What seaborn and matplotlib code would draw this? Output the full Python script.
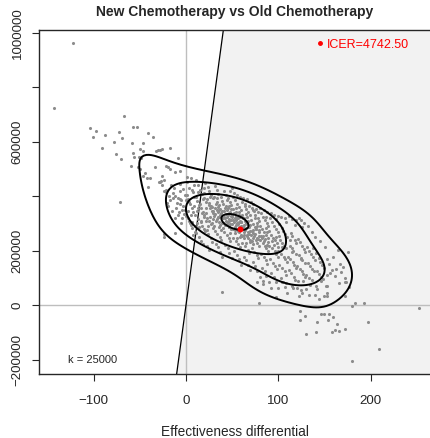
import numpy as np
import pandas as pd
import seaborn as sns
import matplotlib.pyplot as plt
from matplotlib.lines import Line2D

# values: (effectiveness differential, cost differential in thousands)
upper_left = [(-122, 961), (-143, 723), (-67, 693), (-104, 652), (-97, 640), (-101, 616),
              (-88, 623), (-73, 634), (-69, 612), (-78, 597), (-57, 654), (-53, 655),
              (-41, 630), (-36, 618), (-58, 594), (-91, 578), (-50, 573), (-46, 567),
              (-76, 554), (-70, 537), (-57, 557), (-56, 545), (-51, 542), (-49, 541),
              (-32, 564), (-28, 569), (-26, 572), (-17, 575), (-60, 512), (-52, 506),
              (-50, 498), (-33, 508), (-47, 474), (-39, 467), (-22, 510), (-20, 506),
              (-17, 498), (-12, 490), (-7, 493), (-9, 541), (-26, 475), (-29, 453),
              (-27, 456), (-41, 432), (-24, 420), (-22, 421), (-71, 378), (-46, 594),
              (-44, 484), (-42, 465), (-30, 569)]

mid_left = [(-21, 373), (-14, 392), (-24, 261), (-24, 251), (-12, 263), (-14, 411),
            (-12, 400), (-9, 395), (-7, 390), (-5, 385), (-10, 375), (-6, 370), (-3, 362),
            (-11, 355), (-4, 350), (-8, 342), (-2, 335), (-13, 430), (-6, 420), (-16, 440),
            (-18, 400), (-24, 459), (-26, 441), (-22, 416), (-28, 453), (-19, 365),
            (-15, 345), (-9, 330), (-4, 318), (-1, 405), (-7, 445), (-3, 428), (-17, 385),
            (-1, 348), (2, 320), (6, 305), (-5, 300), (10, 290), (-12, 318), (1, 470)]

core = [(1, 452), (3.4, 431), (5, 468), (7.2, 415), (9, 398), (2.1, 389), (4, 372), (6.3, 355),
        (8, 340), (0.4, 326), (3, 310), (5.6, 295), (7, 282), (9.3, 268), (1.2, 405), (6, 421),
        (8.5, 362), (2, 345), (4.4, 300), (9, 440), (0, 385), (5, 330), (7.7, 257), (3, 378),
        (11, 458), (13.5, 440), (15, 421), (17.2, 408), (19, 395), (12, 382), (14.6, 369),
        (16, 356), (18.3, 343), (10, 330), (13, 317), (15.8, 304), (17, 291), (19.4, 278),
        (11, 265), (14, 250), (16.5, 236), (18, 224), (12.7, 415), (15, 372), (17.6, 338),
        (19, 325), (10.3, 398), (13, 355), (16, 310), (18.8, 388), (11.5, 345), (14, 285),
        (19, 430), (12, 300),
        (21, 448), (23.6, 432), (25, 418), (27.3, 404), (29, 392), (22, 380), (24.5, 368),
        (26, 356), (28.7, 344), (20, 332), (23, 320), (25.4, 308), (27, 296), (29.2, 284),
        (21, 272), (24, 260), (26.8, 246), (28, 232), (22.5, 218), (25, 204), (27, 365),
        (29.6, 338), (21.3, 355), (23, 388), (26, 325), (28.4, 302), (20, 410), (24, 290),
        (27.7, 345), (29, 315), (22, 338), (25.2, 375), (23, 275), (26.4, 396), (28, 360),
        (21.8, 310),
        (31, 437), (33.3, 421), (35, 409), (37.6, 396), (39, 384), (32, 372), (34.4, 361),
        (36, 350), (38.2, 339), (30, 328), (33, 317), (35.7, 306), (37, 295), (39.5, 284),
        (31, 273), (34, 262), (36.6, 250), (38, 238), (32.3, 226), (35, 212), (37, 196),
        (39.1, 178), (30.5, 398), (33, 348), (36, 322), (38.8, 300), (31.4, 356), (34, 378),
        (37.2, 330), (39, 345), (32, 310), (35.3, 288), (33.8, 392), (36, 368), (38, 274),
        (31, 336), (34.7, 325), (37, 352), (30, 290), (35, 342),
        (41, 418), (43.4, 404), (45, 392), (47.6, 380), (49, 369), (42, 358), (44.3, 348),
        (46, 338), (48.5, 328), (40, 318), (43, 308), (45.8, 298), (47, 288), (49.2, 278),
        (41, 268), (44, 258), (46.7, 246), (48, 234), (42.4, 222), (45, 208), (47, 192),
        (49.6, 172), (40.2, 372), (43, 335), (46, 315), (48.3, 352), (41.6, 325), (44, 305),
        (47.4, 342), (49, 312), (42, 295), (45.5, 330), (43, 362), (46.2, 285), (48, 298),
        (41, 345), (44.8, 322), (47, 310), (49.4, 332), (40, 300), (45, 355), (42.7, 318),
        (44, 385), (47.8, 265), (46, 362),
        (51, 398), (53.5, 385), (55, 372), (57.3, 360), (59, 349), (52, 338), (54.6, 328),
        (56, 318), (58.2, 308), (50, 298), (53, 288), (55.7, 278), (57, 268), (59.4, 258),
        (51, 248), (54, 236), (56.5, 224), (58, 212), (52.3, 198), (55, 184), (57, 168),
        (59.2, 148), (50.4, 352), (53, 318), (55, 300), (57.6, 330), (59, 290), (51.2, 312),
        (54, 295), (56.8, 342), (58, 322), (52, 305), (55.3, 318), (53, 265), (57, 285),
        (59.7, 305), (51, 280), (54.4, 355), (56, 272), (58.6, 250), (50, 325), (52.8, 275),
        (55, 245), (57, 305), (53.6, 340), (56, 296), (58, 278), (54, 312),
        (61, 378), (63.4, 365), (65, 352), (67.6, 340), (69, 329), (62, 318), (64.3, 308),
        (66, 298), (68.5, 288), (60, 278), (63, 268), (65.8, 258), (67, 248), (69.2, 238),
        (61, 228), (64, 216), (66.7, 204), (68, 192), (62.4, 178), (65, 164), (67, 148),
        (69.6, 128), (60.2, 332), (63, 295), (65, 282), (67.3, 310), (69, 272), (61.6, 292),
        (64, 275), (66.5, 322), (68, 262), (62, 285), (65.4, 300), (63, 245), (67, 268),
        (69.4, 295), (61, 255), (64.8, 335), (66, 252), (68.7, 232), (60, 305), (62.5, 258),
        (65, 228), (67.8, 290), (63, 318),
        (71, 358), (73.4, 344), (75, 332), (77.6, 320), (79, 309), (72, 298), (74.3, 288),
        (76, 278), (78.5, 268), (70, 258), (73, 248), (75.8, 238), (77, 228), (79.2, 218),
        (71, 208), (74, 196), (76.7, 184), (78, 172), (72.4, 158), (75, 144), (77, 126),
        (79.6, 104), (70.2, 312), (73, 275), (75, 262), (77.3, 290), (79, 252), (71.6, 272),
        (74, 255), (76.5, 302), (78, 242), (72, 265), (75.4, 280), (73, 225), (77, 248),
        (79.4, 275), (71, 235), (74.8, 318),
        (81, 338), (83.4, 324), (85, 312), (87.6, 300), (89, 289), (82, 278), (84.3, 268),
        (86, 258), (88.5, 248), (80, 238), (83, 228), (85.8, 218), (87, 208), (89.2, 198),
        (81, 188), (84, 176), (86.7, 164), (88, 152), (82.4, 138), (85, 124), (87, 106),
        (89.6, 84), (80.2, 292), (83, 255), (85, 242), (87.3, 270), (89, 232), (81.6, 252),
        (84, 235), (86.5, 282), (88, 222), (82, 245),
        (91, 318), (93.4, 304), (95, 292), (97.6, 280), (99, 269), (92, 258), (94.3, 248),
        (96, 238), (98.5, 228), (90, 218), (93, 208), (95.8, 198), (97, 188), (99.2, 178),
        (91, 168), (94, 156), (96.7, 144), (98, 132), (92.4, 118), (95, 104), (97, 86),
        (99.6, 64), (90.2, 272), (93, 235), (95, 222), (97.3, 250), (99, 212), (92, 338),
        (101, 298), (103.4, 284), (105, 272), (107.6, 260), (109, 249), (102, 238),
        (104.3, 228), (106, 218), (108.5, 208), (100, 198), (103, 188), (105.8, 178),
        (107, 168), (109.2, 158), (101, 148), (104, 136), (106.7, 124), (108, 112),
        (102.4, 98), (105, 84), (107, 66), (109.6, 46), (100.2, 252), (104, 215),
        (111, 327), (113.4, 264), (115, 252), (117.6, 240), (119, 229), (112, 218),
        (114.3, 208), (116, 198), (118.5, 188), (110, 178), (113, 168), (115.8, 158),
        (117, 148), (119.2, 138), (111, 128), (114, 116), (116.7, 104), (118, 92),
        (112.4, 240), (115, 195),
        (122, 319), (121, 244), (123.4, 230), (125, 218), (127.6, 206), (129, 195),
        (122, 184), (124.3, 174), (126, 164), (128.5, 154), (120, 144), (123, 134),
        (125.8, 124), (127, 114), (129.2, 102), (121, 90), (124, 170),
        (131, 215), (133.4, 200), (135, 188), (137.6, 176), (139, 165), (132, 154),
        (134.3, 144), (136, 134), (138.5, 124), (130, 112), (133, 100), (135.8, 92),
        (141, 190), (143.4, 172), (145, 160), (147.6, 148), (149, 136), (142, 126),
        (144.3, 114), (146, 102), (148.5, 95),
        (152, 170), (155, 150), (158, 130), (161, 105), (164, 202), (162, 131), (156, 118),
        (153, 110), (167, 150), (159, 175), (175, 195), (168, 120), (172, 100), (170, 140)]

upper_band = [(48, 420), (52, 412), (55.5, 405), (58, 398), (62, 395), (66.3, 388), (70, 380),
              (50, 430), (64, 372), (68.6, 365), (73, 370), (76, 352), (80.4, 355), (84, 348),
              (88, 340), (95, 330), (99.3, 328), (103, 322), (107, 318), (115, 315),
              (119.5, 312), (124, 312), (128, 300), (132, 290), (136, 270), (140, 250),
              (145, 235), (150, 215), (137, 209), (126, 285), (118, 295), (108, 305),
              (97, 315), (86, 325), (78, 340), (72, 350)]

lower_right = [(77, 83), (83, 88), (83, 76), (92, 61), (97, 31), (79, 7), (104, 86), (108, 82),
               (115, 71), (116, 61), (120, 61), (124, 55), (126, 43), (122, 33), (127, 89),
               (134, 75), (130, 58), (133, 37), (139, 37), (141, 70), (142, 58), (146, 88),
               (144, 21), (149, 34), (152, 43), (152, 34), (151, 71), (153, 69), (165, 80),
               (173, 86), (176, 67), (172, 33), (172, 83), (183, 8), (180, -3), (192, 8),
               (252, -10), (123, -21), (129, -40), (123, -54), (146, -31), (149, -33),
               (155, -33), (159, -45), (154, -53), (142, -61), (163, -71), (172, -87),
               (166, -95), (161, -92), (158, -100), (141, -100), (130, -105), (197, -61),
               (209, -163), (180, -207), (39, 48)]

k = 25000
icer = 4742.50
mean_e, mean_c = 58.9, 279300
title = "New Chemotherapy vs Old Chemotherapy"
x_ticks = [-100, 0, 100, 200]
y_ticks = [-200000, 0, 200000, 400000, 600000, 800000, 1000000]
y_labels = ["\u2212200000", "0", "200000", "", "600000", "", "1000000"]
contour_frac = [0.13, 0.3, 0.54, 0.95]   # contour heights as share of peak density

pts = pd.DataFrame(upper_left + mid_left + core + upper_band + lower_right, columns=["e", "c"])
pts["c"] = pts["c"] * 1000

# 2d kernel density, product of normal kernels on each axis (like MASS::kde2d)
def kde2d(x, y, n=200, adj=1.0):
    def bw(v):
        iqr = np.subtract(*np.percentile(v, [75, 25]))
        return 1.06 * min(v.std(ddof=1), iqr / 1.34) * len(v) ** -0.2 * adj
    hx, hy = bw(x), bw(y)
    gx = np.linspace(x.min() - 3 * hx, x.max() + 3 * hx, n)
    gy = np.linspace(y.min() - 3 * hy, y.max() + 3 * hy, n)
    ax_ = np.exp(-0.5 * ((gx[:, None] - x[None, :]) / hx) ** 2)
    ay_ = np.exp(-0.5 * ((gy[:, None] - y[None, :]) / hy) ** 2)
    z = ay_ @ ax_.T / (len(x) * 2 * np.pi * hx * hy)
    return gx, gy, z

sns.set_style("ticks")
plt.rcParams["font.family"] = ["Liberation Sans", "DejaVu Sans"]

fig = plt.figure(figsize=(4.30, 4.38), dpi=100)
ax = fig.add_axes([39 / 430, 64 / 438, 392 / 430, 344 / 438])
xlim = (-159, 265)
ylim = (-253000, 1010000)

# cost-effective region: below the line c = k * e
yy = np.array(ylim, dtype=float)
ax.fill_betweenx(yy, yy / k, xlim[1], color="#f2f2f2", lw=0, zorder=0)
ax.axhline(0, color="#bebebe", lw=1, zorder=1)
ax.axvline(0, color="#bebebe", lw=1, zorder=1)
ax.axline((0, 0), slope=k, color="black", lw=0.9, zorder=2)

sns.scatterplot(data=pts, x="e", y="c", s=5, color="#8c8c8c", linewidth=0,
                ax=ax, zorder=3, legend=False)
gx, gy, z = kde2d(pts["e"].to_numpy(), pts["c"].to_numpy(), adj=1.55)
ax.contour(gx, gy, z, levels=np.array(contour_frac) * z.max(), colors="black",
           linewidths=1.4, zorder=4)
ax.scatter([mean_e], [mean_c], s=18, color="red", linewidths=0, zorder=5)

handle = Line2D([], [], ls="", marker="o", ms=2.5, color="red")
ax.legend([handle], [f"ICER={icer:.2f}"], loc="upper right", frameon=False,
          labelcolor="red", fontsize=9, handletextpad=0.2, handlelength=0.6,
          borderaxespad=0.3, bbox_to_anchor=(0.965, 1.0))

ax.text(-128, -202000, f"k = {k}", fontsize=8, va="center", ha="left")

ax.set_xlim(xlim)
ax.set_ylim(ylim)
ax.set_xticks(x_ticks)
ax.set_xticklabels([f"{v}".replace("-", "\u2212") for v in x_ticks])
ax.set_yticks(y_ticks)
ax.set_yticklabels(y_labels, rotation=90, va="center")
ax.tick_params(direction="out", length=5, width=0.8, labelsize=9.6)
ax.tick_params(axis="x", pad=10)
ax.tick_params(axis="y", pad=6)
ax.set_xlabel("Effectiveness differential", fontsize=9.8, labelpad=13)
ax.set_ylabel("")
ax.set_title(title, fontsize=10, fontweight="bold", pad=10)
for s in ax.spines.values():
    s.set_linewidth(1.0)

fig.savefig("out.png", dpi=100)
